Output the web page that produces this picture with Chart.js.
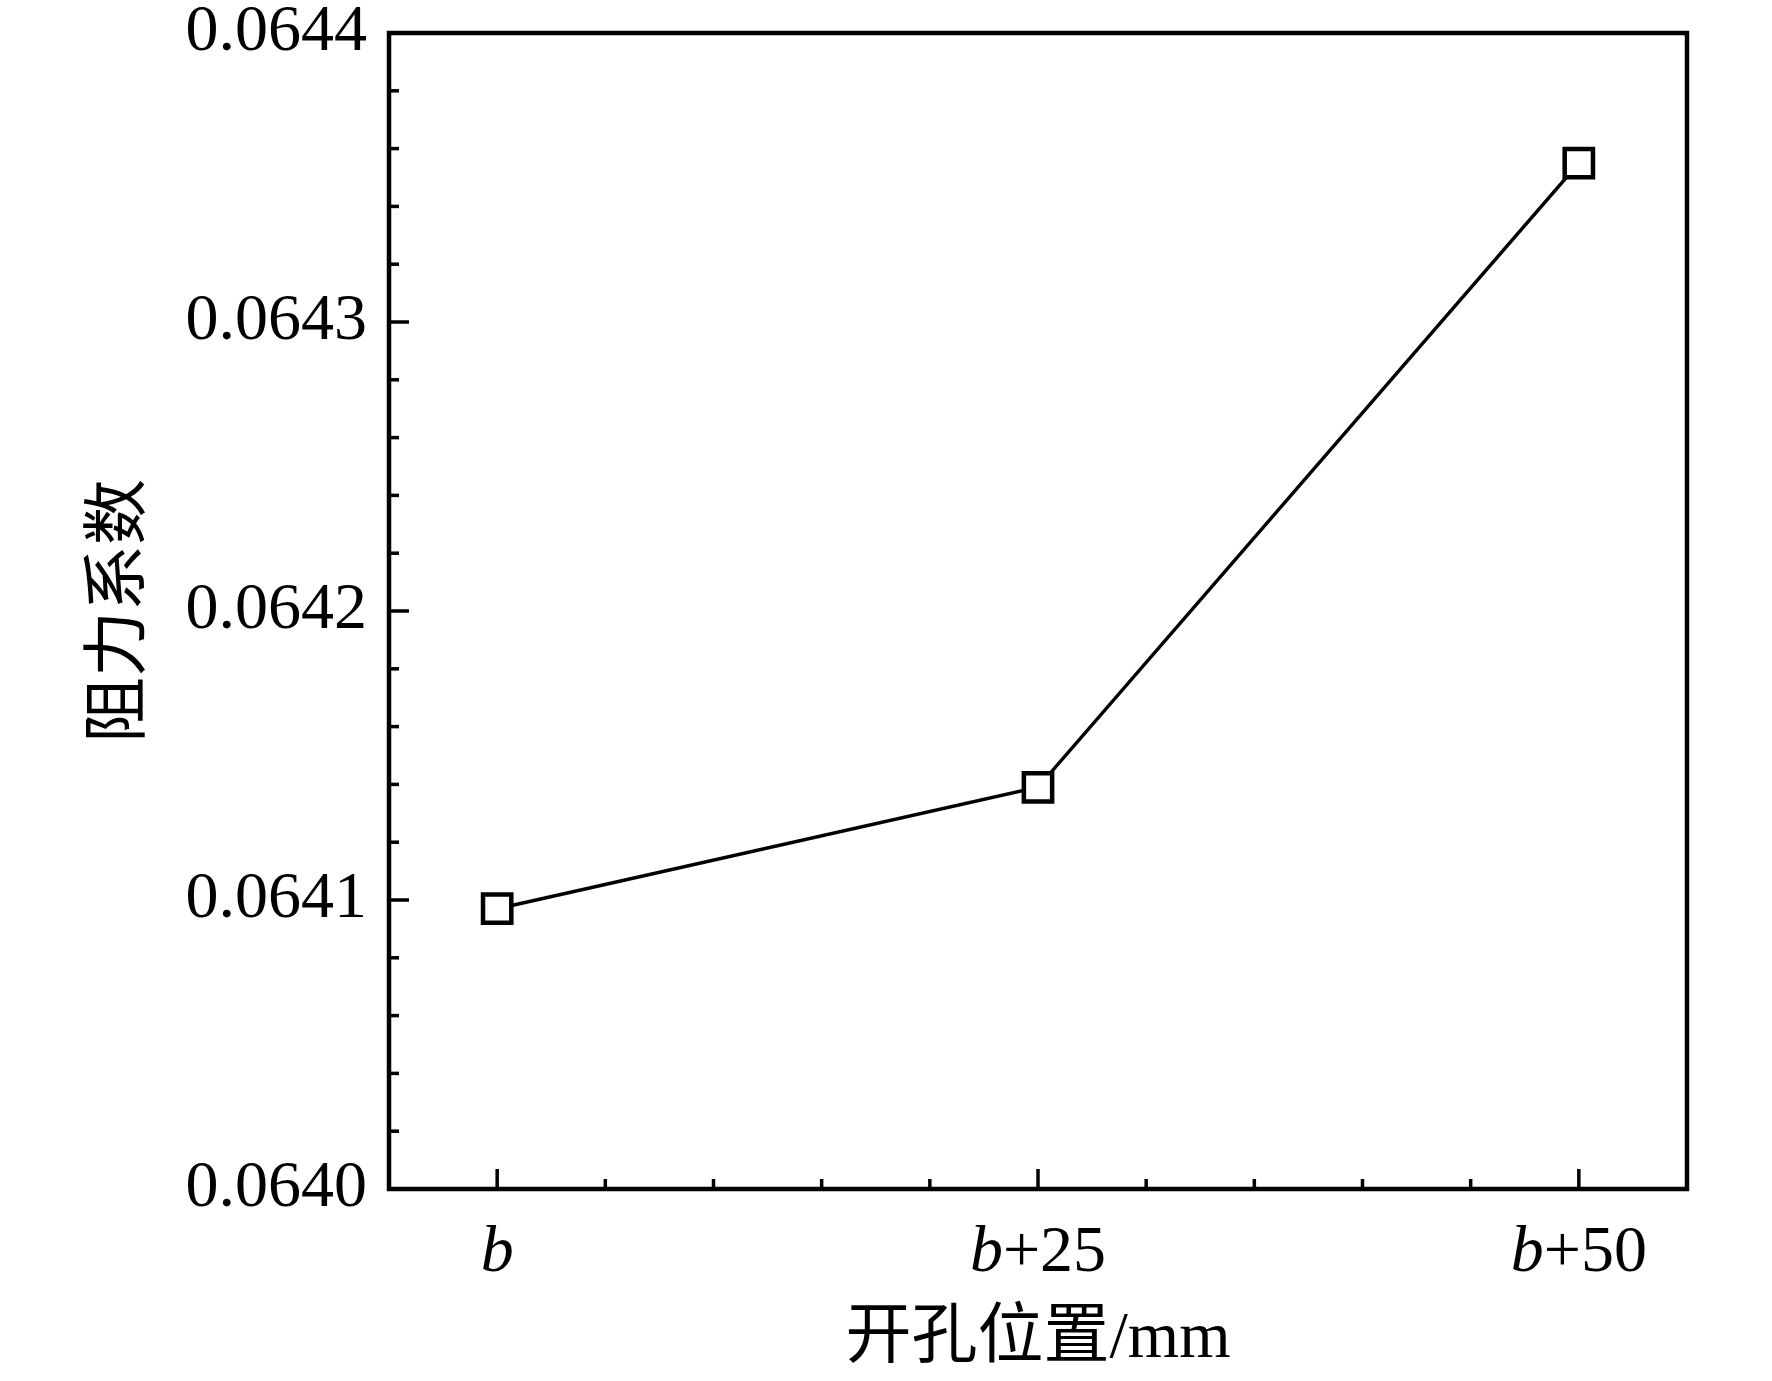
<!DOCTYPE html>
<html>
<head>
<meta charset="utf-8">
<script src="https://cdn.jsdelivr.net/npm/chart.js@4.4.1/dist/chart.umd.min.js"></script>
<style>
  html, body { margin: 0; padding: 0; background: #fff; }
  #wrap { width: 1772px; height: 1381px; }
</style>
</head>
<body>
<div id="wrap"><canvas id="dragChart" width="1772" height="1381"></canvas></div>
<script>
const positionLabels = ['b', 'b+25', 'b+50'];
const positionOffsets = [0, 25, 50];
const dragCoefficients = [0.064097, 0.064139, 0.064355];
const yTickLabels = ['0.0640', '0.0641', '0.0642', '0.0643', '0.0644'];

const SERIF = '"Liberation Serif", "Noto Sans CJK SC", serif';

function isMajorY(v) {
  const k = (v - 0.064) / 0.0001;
  return Math.abs(k - Math.round(k)) < 1e-3;
}

// frame, inward ticks and the x labels (italic b, upright +25)
const framePlugin = {
  id: 'frame',
  afterDraw(chart) {
    const { ctx, chartArea: a, scales } = chart;
    ctx.save();
    ctx.strokeStyle = '#000';
    ctx.fillStyle = '#000';

    ctx.lineWidth = 3.5;
    scales.x.ticks.forEach(t => {
      const px = scales.x.getPixelForValue(t.value);
      const len = Math.abs(t.value % 25) < 1e-6 ? 20 : 10;
      ctx.beginPath();
      ctx.moveTo(px, a.bottom);
      ctx.lineTo(px, a.bottom - len);
      ctx.stroke();
    });
    scales.y.ticks.forEach(t => {
      const py = scales.y.getPixelForValue(t.value);
      const len = isMajorY(t.value) ? 20 : 10;
      ctx.beginPath();
      ctx.moveTo(a.left, py);
      ctx.lineTo(a.left + len, py);
      ctx.stroke();
    });

    ctx.lineWidth = 4.5;
    ctx.strokeRect(a.left, a.top, a.right - a.left, a.bottom - a.top);

    ctx.textBaseline = 'alphabetic';
    ctx.textAlign = 'left';
    positionLabels.forEach((lab, i) => {
      const px = scales.x.getPixelForValue(positionOffsets[i]);
      const head = lab.charAt(0);
      const rest = lab.slice(1);
      ctx.font = 'italic 66px ' + SERIF;
      const w1 = ctx.measureText(head).width;
      ctx.font = '66px ' + SERIF;
      const w2 = ctx.measureText(rest).width;
      const x0 = px - (w1 + w2) / 2;
      ctx.font = 'italic 66px ' + SERIF;
      ctx.fillText(head, x0, a.bottom + 82);
      ctx.font = '66px ' + SERIF;
      ctx.fillText(rest, x0 + w1, a.bottom + 82);
    });
    ctx.restore();
  }
};

const points = positionOffsets.map((x, i) => ({ x: x, y: dragCoefficients[i] }));

new Chart(document.getElementById('dragChart'), {
  type: 'line',
  data: {
    datasets: [{
      data: points,
      borderColor: '#000',
      borderWidth: 3.5,
      pointStyle: 'rect',
      pointRadius: 20,
      pointBorderWidth: 4.5,
      pointBackgroundColor: '#fff',
      pointBorderColor: '#000',
      tension: 0
    }]
  },
  options: {
    responsive: false,
    devicePixelRatio: 1,
    animation: false,
    layout: { padding: { top: 33, right: 85, left: 0, bottom: 0 } },
    plugins: {
      legend: { display: false },
      tooltip: { enabled: false }
    },
    scales: {
      x: {
        type: 'linear',
        min: -5,
        max: 55,
        grid: { display: false, drawTicks: false },
        border: { display: false },
        ticks: { stepSize: 5, display: false, autoSkip: false },
        title: {
          display: true,
          text: '开孔位置/mm',
          color: '#000',
          font: { family: SERIF, size: 66, lineHeight: 1.2 },
          padding: { top: 0, bottom: 2 }
        },
        afterFit(scale) {
          scale.height = 192;
          scale.paddingLeft = 0;
          scale.paddingRight = 0;
        }
      },
      y: {
        min: 0.064,
        max: 0.0644,
        grid: { display: false, drawTicks: false },
        border: { display: false },
        ticks: {
          stepSize: 0.00002,
          autoSkip: false,
          padding: 22,
          color: '#000',
          font: { family: SERIF, size: 66, lineHeight: 1 },
          callback: (v) => isMajorY(v) ? yTickLabels[Math.round((v - 0.064) / 0.0001)] : ''
        },
        title: {
          display: true,
          text: '阻力系数',
          color: '#000',
          font: { family: SERIF, size: 66, lineHeight: 1.2 },
          padding: { top: 82, bottom: 0 }
        },
        afterFit(scale) {
          scale.width = 389;
          scale.paddingTop = 0;
          scale.paddingBottom = 0;
        }
      }
    }
  },
  plugins: [framePlugin]
});
</script>
</body>
</html>
